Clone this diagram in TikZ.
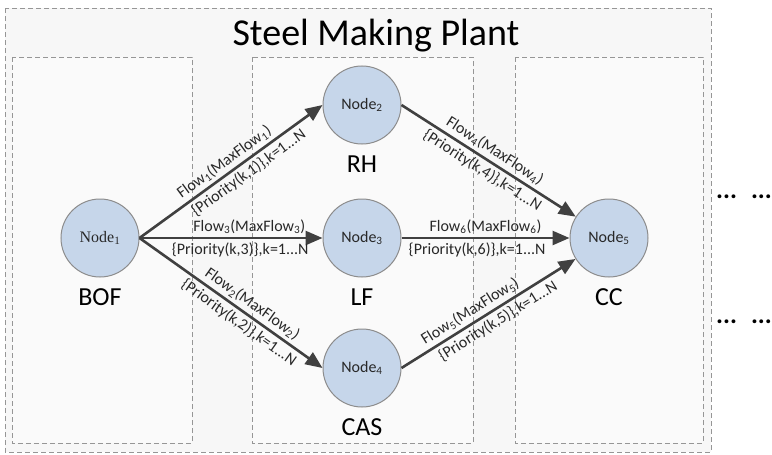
\documentclass[tikz,border=0pt]{standalone}
\usepackage{fontspec}
\setmainfont{Carlito}
\newfontfamily\serifnode{Liberation Serif}
\usetikzlibrary{positioning, arrows.meta, shapes}

\definecolor{nodeblue}{RGB}{198,214,234}
\definecolor{nodeline}{RGB}{140,140,140}
\definecolor{arrowgray}{RGB}{64,64,64}
\definecolor{boxgray}{RGB}{150,150,150}
\definecolor{textgray}{RGB}{40,40,40}

\tikzset{
  unit/.style={circle, draw=nodeline, fill=nodeblue, line width=1pt, minimum size=78pt, inner sep=0pt, font=\fontsize{16}{18}\selectfont, text=textgray},
  unitname/.style={font=\fontsize{26}{28}\selectfont},
  flow/.style={-{Triangle[length=17pt,width=14pt]}, draw=arrowgray, line width=2.6pt},
  lbl/.style={sloped, font=\fontsize{16}{18}\selectfont, text=textgray, inner sep=3pt},
  area/.style={draw=boxgray, dashed, line width=0.9pt, dash pattern=on 5pt off 3pt},
  more/.style={font=\fontsize{26}{28}\selectfont\bfseries, anchor=west, inner sep=0pt},
}

\begin{document}
\begin{tikzpicture}[x=1pt, y=-1pt]
\useasboundingbox (0,0) rectangle (772,455);

% plant and stages
\draw[area, fill=black!3] (5,8) rectangle (711,452);
\draw[area, fill=black!2] (12,57) rectangle (192,443);
\draw[area, fill=black!2] (252,57) rectangle (473,443);
\draw[area, fill=black!2] (515,57) rectangle (703,443);
\node (plant) at (376,36) {\fontsize{38}{40}\selectfont Steel Making Plant};

\node[unit](n1) at (100,238) {\serifnode Node\textsubscript{1}};
\node[unit](n2) at (362,105) {Node\textsubscript{2}};
\node[unit](n3) at (362,238) {Node\textsubscript{3}};
\node[unit](n4) at (362,368) {Node\textsubscript{4}};
\node[unit](n5) at (609,238) {Node\textsubscript{5}};

\node[unitname, below=8pt of n1] (bof) {BOF};
\node[unitname, below=8pt of n2] (rh) {RH};
\node[unitname, below=8pt of n3] (lf) {LF};
\node[unitname, below=8pt of n4] (cas) {CAS};
\node[unitname, below=8pt of n5] (cc) {CC};

\draw	(n1.east) edge[flow] node[lbl, above, pos=0.5]{Flow\textsubscript{1}(MaxFlow\textsubscript{1})} node[lbl, below, pos=0.56]{\{Priority(k,1)\},k=1...N} (n2.west)
		(n1.east) edge[flow] node[lbl, above, pos=0.6]{Flow\textsubscript{3}(MaxFlow\textsubscript{3})} node[lbl, below, pos=0.55]{\{Priority(k,3)\},k=1...N} (n3.west)
		(n1.east) edge[flow] node[lbl, above, pos=0.58]{Flow\textsubscript{2}(MaxFlow\textsubscript{2})} node[lbl, below, pos=0.58]{\{Priority(k,2)\},k=1...N} (n4.west)
		(n2.east) edge[flow] node[lbl, above, pos=0.5]{Flow\textsubscript{4}(MaxFlow\textsubscript{4})} node[lbl, below, pos=0.5]{\{Priority(k,4)\},k=1...N} (n5)
		(n3.east) edge[flow] node[lbl, above, pos=0.5]{Flow\textsubscript{6}(MaxFlow\textsubscript{6})} node[lbl, below, pos=0.45]{\{Priority(k,6)\},k=1...N} (n5)
		(n4.east) edge[flow] node[lbl, above, pos=0.43]{Flow\textsubscript{5}(MaxFlow\textsubscript{5})} node[lbl, below, pos=0.52]{\{Priority(k,5)\},k=1...N} (n5);

% further stages
\node[more] (more1) at (716,197) {...\hspace{14pt}...};
\node[more] (more2) at (716,322) {...\hspace{14pt}...};

\end{tikzpicture}
\end{document}
